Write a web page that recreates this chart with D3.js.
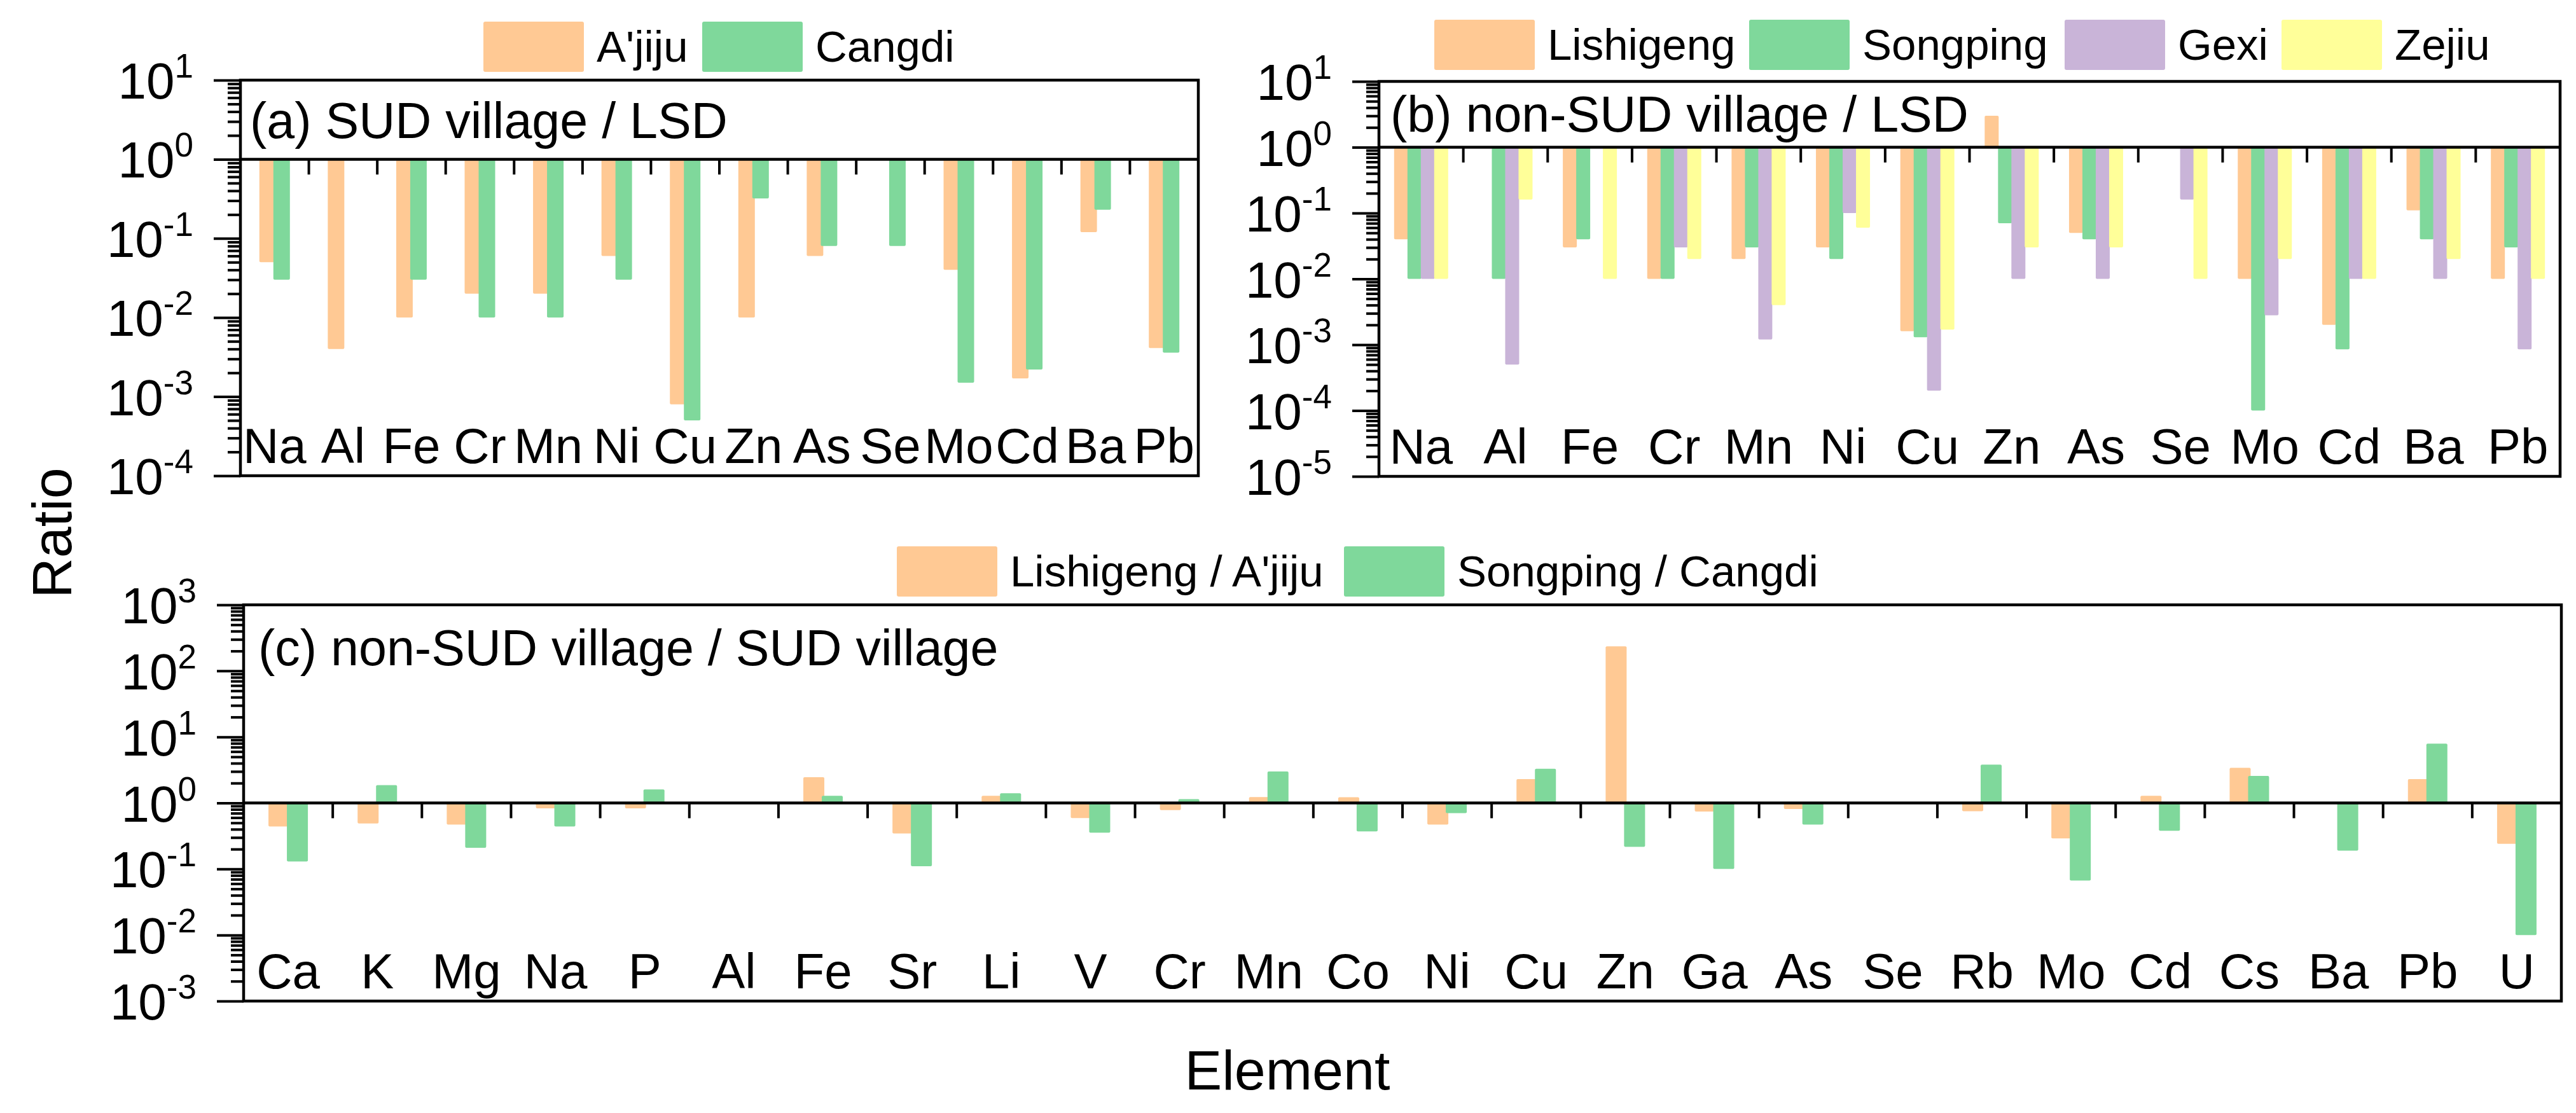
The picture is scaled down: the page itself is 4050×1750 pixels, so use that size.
<!DOCTYPE html>
<html>
<head>
<meta charset="utf-8">
<script src="https://cdn.jsdelivr.net/npm/d3@7"></script>
<style>
  body { margin: 0; background: #fff; }
  text { font-family: "Liberation Sans", Arial, sans-serif; fill: #000; }
</style>
</head>
<body>
<svg id="canvas" width="4050" height="1750"></svg>
<script>
const svg = d3.select("#canvas");

// panel (a): SUD village / LSD
const elementsA = ["Na", "Al", "Fe", "Cr", "Mn", "Ni", "Cu", "Zn", "As", "Se", "Mo", "Cd", "Ba", "Pb"];
const ajiju  = [0.05, 0.004, 0.01, 0.02, 0.02, 0.06, 0.0008, 0.01, 0.06, null, 0.04, 0.0017, 0.12, 0.0041];
const cangdi = [0.03, null, 0.03, 0.01, 0.01, 0.03, 0.0005, 0.32, 0.08, 0.08, 0.0015, 0.0022, 0.23, 0.0036];

// panel (b): non-SUD village / LSD
const elementsB = ["Na", "Al", "Fe", "Cr", "Mn", "Ni", "Cu", "Zn", "As", "Se", "Mo", "Cd", "Ba", "Pb"];
const lishigeng = [0.04, null, 0.03, 0.01, 0.02, 0.03, 0.0016, 3.0, 0.05, null, 0.01, 0.002, 0.11, 0.01];
const songping  = [0.01, 0.01, 0.04, 0.01, 0.03, 0.02, 0.0013, 0.07, 0.04, null, 0.0001, 0.00085, 0.04, 0.03];
const gexi      = [0.01, 0.0005, null, 0.03, 0.0012, 0.1, 0.0002, 0.01, 0.01, 0.16, 0.0028, 0.01, 0.01, 0.00085];
const zejiu     = [0.01, 0.16, 0.01, 0.02, 0.004, 0.06, 0.0017, 0.03, 0.03, 0.01, 0.02, 0.01, 0.02, 0.01];

// panel (c): non-SUD village / SUD village
const elementsC = ["Ca", "K", "Mg", "Na", "P", "Al", "Fe", "Sr", "Li", "V", "Cr", "Mn", "Co", "Ni", "Cu", "Zn", "Ga", "As", "Se", "Rb", "Mo", "Cd", "Cs", "Ba", "Pb", "U"];
const lishOverAj = [0.44, 0.49, 0.47, 0.83, 0.83, null, 2.45, 0.345, 1.28, 0.59, 0.78, 1.23, 1.22, 0.47, 2.3, 235, 0.74, 0.81, null, 0.75, 0.29, 1.28, 3.4, 1.02, 2.3, 0.24];
const songOverCa = [0.13, 1.86, 0.21, 0.44, 1.6, null, 1.28, 0.11, 1.4, 0.355, 1.14, 3.0, 0.37, 0.70, 3.3, 0.216, 0.1, 0.47, null, 3.8, 0.067, 0.38, 2.57, 0.19, 7.9, 0.01];

const colors = {
    orange: "#ffc994",
    green: "#7fd89b",
    purple: "#c9b4d8",
    yellow: "#ffff99"
};

const panels = [
    {
        box: { left: 378, right: 1884, top: 126, bottom: 748 },
        domain: [1e-4, 1e1],
        elements: elementsA,
        series: [
            { name: "A'jiju", values: ajiju, color: colors.orange },
            { name: "Cangdi", values: cangdi, color: colors.green }
        ],
        barWidth: 26, barStep: 22,
        title: "(a) SUD village / LSD", titleX: 393, titleY: 217,
        legend: { y: 34, items: [760, 1104] }
    },
    {
        box: { left: 2168, right: 4025, top: 128, bottom: 749 },
        domain: [1e-5, 1e1],
        elements: elementsB,
        series: [
            { name: "Lishigeng", values: lishigeng, color: colors.orange },
            { name: "Songping", values: songping, color: colors.green },
            { name: "Gexi", values: gexi, color: colors.purple },
            { name: "Zejiu", values: zejiu, color: colors.yellow }
        ],
        barWidth: 22, barStep: 21,
        title: "(b) non-SUD village / LSD", titleX: 2186, titleY: 207,
        legend: { y: 31, items: [2255, 2750, 3246, 3587] }
    },
    {
        box: { left: 383, right: 4027, top: 951, bottom: 1574 },
        domain: [1e-3, 1e3],
        elements: elementsC,
        series: [
            { name: "Lishigeng / A'jiju", values: lishOverAj, color: colors.orange },
            { name: "Songping / Cangdi", values: songOverCa, color: colors.green }
        ],
        barWidth: 33, barStep: 29,
        title: "(c) non-SUD village / SUD village", titleX: 406, titleY: 1046,
        legend: { y: 859, items: [1410, 2113] }
    }
];

panels.forEach(drawPanel);

function drawPanel(p) {
    const b = p.box;
    const g = svg.append("g");

    const x = d3.scaleBand().domain(p.elements).range([b.left, b.right]);
    const y = d3.scaleLog().domain(p.domain).range([b.bottom, b.top]);
    const y0 = y(1);

    // bars hang from 10^0
    const n = p.series.length;
    p.series.forEach((s, si) => {
        const off = (si - (n - 1) / 2) * p.barStep;
        const data = p.elements.map((e, i) => ({ e, v: s.values[i] })).filter(d => d.v != null);
        g.selectAll(null)
            .data(data)
            .enter()
            .append("rect")
            .attr("x", d => x(d.e) + x.bandwidth() / 2 + off - p.barWidth / 2)
            .attr("y", d => Math.min(y(d.v), y0))
            .attr("width", p.barWidth)
            .attr("height", d => Math.abs(y(d.v) - y0))
            .attr("rx", 2)
            .attr("fill", s.color);
    });

    // y axis ticks (outward)
    const lo = Math.round(Math.log10(p.domain[0]));
    const hi = Math.round(Math.log10(p.domain[1]));
    const majors = d3.range(lo, hi + 1);
    const minors = [];
    for (let k = lo; k < hi; k++) {
        for (let m = 2; m <= 9; m++) minors.push(m * Math.pow(10, k));
    }

    const majorAxis = g.append("g")
        .attr("transform", `translate(${b.left},0)`)
        .call(d3.axisLeft(y).tickValues(majors.map(k => Math.pow(10, k))).tickSize(42).tickFormat(""));
    const minorAxis = g.append("g")
        .attr("transform", `translate(${b.left},0)`)
        .call(d3.axisLeft(y).tickValues(minors).tickSize(20).tickFormat(""));
    [majorAxis, minorAxis].forEach(a => {
        a.select(".domain").remove();
        a.selectAll("line").attr("stroke", "#000").attr("stroke-width", 4);
    });

    majors.forEach(k => {
        const t = g.append("text")
            .attr("x", b.left - 74)
            .attr("y", y(Math.pow(10, k)) + 29)
            .attr("text-anchor", "end")
            .attr("font-size", "80px")
            .text("10");
        t.append("tspan")
            .attr("dy", -33)
            .attr("font-size", "53px")
            .text(k);
    });

    // x ticks at band boundaries, pointing down from the 10^0 line
    g.selectAll(null)
        .data(p.elements.slice(1))
        .enter()
        .append("line")
        .attr("x1", d => x(d))
        .attr("x2", d => x(d))
        .attr("y1", y0)
        .attr("y2", y0 + 24)
        .attr("stroke", "#000")
        .attr("stroke-width", 4);

    g.selectAll(null)
        .data(p.elements)
        .enter()
        .append("text")
        .attr("x", d => x(d) + x.bandwidth() / 2)
        .attr("y", b.bottom - 20)
        .attr("text-anchor", "middle")
        .attr("font-size", "78px")
        .text(d => d);

    // frame and 10^0 line
    g.append("rect")
        .attr("x", b.left)
        .attr("y", b.top)
        .attr("width", b.right - b.left)
        .attr("height", b.bottom - b.top)
        .attr("fill", "none")
        .attr("stroke", "#000")
        .attr("stroke-width", 4.5);

    g.append("line")
        .attr("x1", b.left)
        .attr("x2", b.right)
        .attr("y1", y0)
        .attr("y2", y0)
        .attr("stroke", "#000")
        .attr("stroke-width", 4.5);

    g.append("text")
        .attr("x", p.titleX)
        .attr("y", p.titleY)
        .attr("font-size", "79px")
        .text(p.title);

    // legend
    p.series.forEach((s, si) => {
        const lx = p.legend.items[si];
        g.append("rect")
            .attr("x", lx)
            .attr("y", p.legend.y)
            .attr("width", 158)
            .attr("height", 79)
            .attr("rx", 3)
            .attr("fill", s.color);
        g.append("text")
            .attr("x", lx + 178)
            .attr("y", p.legend.y + 63)
            .attr("font-size", "69px")
            .text(s.name);
    });
}

svg.append("text")
    .attr("transform", "translate(112,838) rotate(-90)")
    .attr("text-anchor", "middle")
    .attr("font-size", "88px")
    .text("Ratio");

svg.append("text")
    .attr("x", 2024)
    .attr("y", 1713)
    .attr("text-anchor", "middle")
    .attr("font-size", "88px")
    .text("Element");
</script>
</body>
</html>
